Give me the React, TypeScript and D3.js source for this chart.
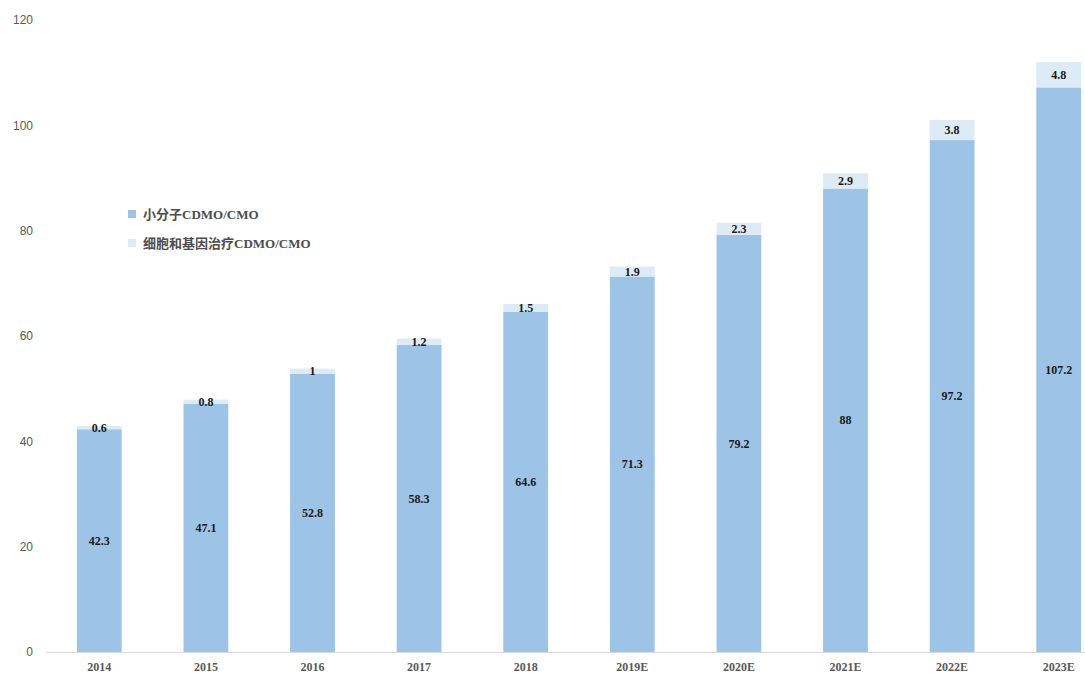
import { scaleBand, scaleLinear } from "d3";

const years = ["2014", "2015", "2016", "2017", "2018", "2019E", "2020E", "2021E", "2022E", "2023E"];
const smallMolecule = [42.3, 47.1, 52.8, 58.3, 64.6, 71.3, 79.2, 88, 97.2, 107.2];
const cellGene = [0.6, 0.8, 1, 1.2, 1.5, 1.9, 2.3, 2.9, 3.8, 4.8];
const yTicks = [0, 20, 40, 60, 80, 100, 120];
const seriesNames = ["小分子CDMO/CMO", "细胞和基因治疗CDMO/CMO"];

const W = 1085;
const H = 674;
const C1 = "#9dc3e6";
const C2 = "#ddebf7";
const numFont = "'Liberation Serif', 'DejaVu Serif', serif";

export default function App() {
  const x = scaleBand<string>().domain(years).range([46, 1112]).paddingInner(0.58).paddingOuter(0.29);
  const y = scaleLinear().domain([0, 120]).range([652, 20]);
  const bw = x.bandwidth();

  return (
    <svg width={W} height={H} style={{ position: "absolute", left: 0, top: 0, background: "#fff" }}>
      {yTicks.map((t) => (
        <text key={t} x={33} y={y(t)} dy="0.35em" textAnchor="end" fontSize={12}
          fontFamily="'Liberation Sans', 'DejaVu Sans', sans-serif" fill="#595959">{t}</text>
      ))}
      {years.map((yr, i) => {
        const x0 = x(yr)!;
        const a = smallMolecule[i];
        const b = cellGene[i];
        return (
          <g key={yr}>
            <rect x={x0} width={bw} y={y(a)} height={y(0) - y(a)} fill={C1} />
            <rect x={x0} width={bw} y={y(a + b)} height={y(a) - y(a + b)} fill={C2} />
            <text x={x0 + bw / 2} y={y(a / 2)} dy="0.35em" textAnchor="middle" fontSize={12}
              fontWeight="bold" fontFamily={numFont} fill="#1a1a1a">{a}</text>
            <text x={x0 + bw / 2} y={y(a + b / 2)} dy="0.35em" textAnchor="middle" fontSize={12}
              fontWeight="bold" fontFamily={numFont} fill="#1a1a1a">{b}</text>
            <text x={x0 + bw / 2} y={667} dy="0.35em" textAnchor="middle" fontSize={12}
              fontWeight="bold" fontFamily={numFont} fill="#595959">{yr}</text>
          </g>
        );
      })}
      <line x1={46} x2={W} y1={652.5} y2={652.5} stroke="#d9d9d9" strokeWidth={1} />
      {seriesNames.map((name, i) => (
        <g key={name} transform={`translate(128, ${214 + i * 29})`}>
          <rect x={0} y={-4} width={8} height={8} fill={i === 0 ? C1 : C2} />
          <text x={15} y={0} dy="0.35em" fontSize={13} fontWeight="bold"
            fontFamily="'Liberation Serif', 'Noto Sans CJK SC', serif" fill="#4d4d4d">{name}</text>
        </g>
      ))}
    </svg>
  );
}
